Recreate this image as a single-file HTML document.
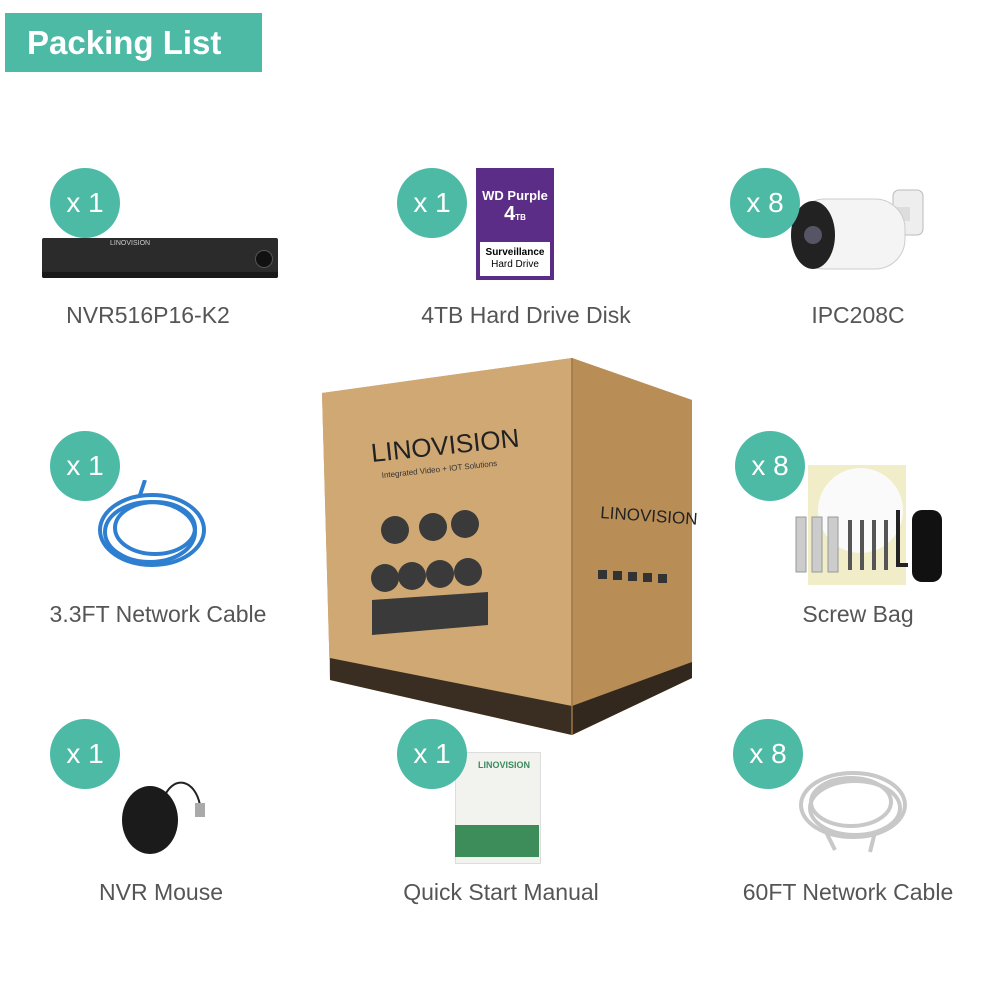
<!DOCTYPE html>
<html><head><meta charset="utf-8"><style>
body{margin:0;width:1000px;height:1000px;background:#fff;position:relative;overflow:hidden;font-family:"Liberation Sans",sans-serif}
.hdr{position:absolute;left:5px;top:13px;width:257px;height:59px;background:#4dbaa5;color:#fff;font-weight:bold;font-size:33px;line-height:59px;text-indent:22px}
.c{position:absolute;width:70px;height:70px;border-radius:50%;background:#4dbaa5;color:#fff;font-size:28px;text-align:center;line-height:70px;z-index:2}
.l{position:absolute;color:#555;font-size:23px;width:300px;text-align:center}
.a{position:absolute}
</style></head><body>
<div class="hdr">Packing List</div>

<div class="c" style="left:50px;top:168px">x 1</div>
<div class="c" style="left:397px;top:168px">x 1</div>
<div class="c" style="left:730px;top:168px">x 8</div>
<div class="c" style="left:50px;top:431px">x 1</div>
<div class="c" style="left:735px;top:431px">x 8</div>
<div class="c" style="left:50px;top:719px">x 1</div>
<div class="c" style="left:397px;top:719px">x 1</div>
<div class="c" style="left:733px;top:719px">x 8</div>

<div class="l" style="left:-2px;top:302px">NVR516P16-K2</div>
<div class="l" style="left:376px;top:302px">4TB Hard Drive Disk</div>
<div class="l" style="left:708px;top:302px">IPC208C</div>
<div class="l" style="left:8px;top:601px">3.3FT Network Cable</div>
<div class="l" style="left:708px;top:601px">Screw Bag</div>
<div class="l" style="left:11px;top:879px">NVR Mouse</div>
<div class="l" style="left:351px;top:879px">Quick Start Manual</div>
<div class="l" style="left:698px;top:879px">60FT Network Cable</div>

<!-- NVR -->
<div class="a" style="left:42px;top:238px;width:236px;height:40px;background:#2b2b2b;border-radius:2px;box-shadow:inset 0 -6px 0 #1a1a1a"></div>
<div class="a" style="left:110px;top:240px;color:#ccc;font-size:7px">LINOVISION</div>
<div class="a" style="left:255px;top:250px;width:16px;height:16px;border-radius:50%;background:#111;border:1px solid #555"></div>

<!-- HDD -->
<div class="a" style="left:476px;top:168px;width:78px;height:112px;background:#5b2d86"></div>
<div class="a" style="left:478px;top:188px;width:74px;color:#fff;font-size:13px;text-align:center;font-weight:bold">WD Purple<br><span style="font-size:20px">4</span><span style="font-size:8px">TB</span></div>
<div class="a" style="left:480px;top:242px;width:70px;height:34px;background:#fff;font-size:10px;text-align:center;line-height:12px;padding-top:5px;box-sizing:border-box"><b>Surveillance</b><br>Hard Drive</div>

<!-- camera -->
<svg class="a" style="left:785px;top:185px" width="160" height="100">
<rect x="108" y="5" width="30" height="45" rx="6" fill="#eee" stroke="#bbb"/>
<rect x="95" y="22" width="30" height="14" fill="#ddd"/>
<rect x="10" y="14" width="110" height="70" rx="30" fill="#f4f4f4" stroke="#ccc"/>
<ellipse cx="28" cy="50" rx="22" ry="34" fill="#222"/>
<circle cx="28" cy="50" r="9" fill="#556"/>
</svg>

<!-- blue cable -->
<svg class="a" style="left:90px;top:480px" width="130" height="95">
<g fill="none" stroke="#2f7fd0" stroke-width="4">
<ellipse cx="62" cy="50" rx="52" ry="35"/><ellipse cx="60" cy="52" rx="45" ry="30"/><ellipse cx="65" cy="48" rx="40" ry="26"/>
<path d="M50 15 L55 0"/></g></svg>

<!-- screw bag -->
<div class="a" style="left:808px;top:465px;width:98px;height:120px;background:#f0edc8"></div>
<div class="a" style="left:818px;top:468px;width:85px;height:85px;border-radius:50%;background:#fafafa"></div>
<svg class="a" style="left:790px;top:505px" width="160" height="80">
<g fill="#ccc" stroke="#999"><rect x="6" y="12" width="10" height="55"/><rect x="22" y="12" width="10" height="55"/><rect x="38" y="12" width="10" height="55"/></g>
<g stroke="#555" stroke-width="4"><line x1="60" y1="15" x2="60" y2="65"/><line x1="72" y1="15" x2="72" y2="65"/><line x1="84" y1="15" x2="84" y2="65"/><line x1="96" y1="15" x2="96" y2="65"/></g>
<path d="M108 5 L108 60 L118 60" stroke="#222" stroke-width="4" fill="none"/>
<rect x="122" y="5" width="30" height="72" rx="10" fill="#111"/>
</svg>

<!-- mouse -->
<svg class="a" style="left:115px;top:765px" width="95" height="95">
<path d="M50 30 C60 10 80 15 85 40" stroke="#222" fill="none" stroke-width="2"/>
<rect x="80" y="38" width="10" height="14" fill="#aaa"/>
<ellipse cx="35" cy="55" rx="28" ry="34" fill="#1b1b1b"/>
</svg>

<!-- manual -->
<div class="a" style="left:455px;top:752px;width:84px;height:110px;background:#f2f2ee;border:1px solid #ddd"></div>
<div class="a" style="left:478px;top:760px;color:#3a8b5f;font-size:9px;font-weight:bold">LINOVISION</div>
<div class="a" style="left:455px;top:825px;width:84px;height:32px;background:#3c8d59"></div>

<!-- grey cable -->
<svg class="a" style="left:795px;top:760px" width="120" height="100">
<g fill="none" stroke="#c8c8c8" stroke-width="4">
<ellipse cx="58" cy="45" rx="52" ry="32"/><ellipse cx="60" cy="48" rx="45" ry="27"/><ellipse cx="56" cy="42" rx="40" ry="24"/>
<path d="M30 70 L40 90 M80 72 L75 92"/></g></svg>

<!-- box -->
<svg class="a" style="left:0;top:0" width="1000" height="1000">
<polygon points="322,393 572,358 692,400 692,678 572,735 330,680" fill="#c9a06a"/>
<polygon points="572,358 692,400 692,678 572,735" fill="#b88d56"/>
<polygon points="322,393 572,358 572,735 330,680" fill="#cfa874"/>
<polygon points="330,658 572,706 572,735 330,680" fill="#3a2e22"/>
<polygon points="572,706 692,662 692,678 572,735" fill="#32281d"/>
<line x1="572" y1="358" x2="572" y2="735" stroke="#9c7646" stroke-width="1.5"/>
<text x="372" y="462" font-family="Liberation Sans" font-size="26" fill="#222" transform="rotate(-6 372 462)">LINOVISION</text>
<text x="382" y="478" font-family="Liberation Sans" font-size="8" fill="#333" transform="rotate(-6 382 478)">Integrated Video + IOT Solutions</text>
<text x="600" y="518" font-family="Liberation Sans" font-size="17" fill="#222" transform="rotate(4 600 518)">LINOVISION</text>
<g fill="#333"><rect x="598" y="570" width="9" height="9"/><rect x="613" y="571" width="9" height="9"/><rect x="628" y="572" width="9" height="9"/><rect x="643" y="573" width="9" height="9"/><rect x="658" y="574" width="9" height="9"/></g>
<g fill="#3a3a3a">
<circle cx="395" cy="530" r="14"/><circle cx="433" cy="527" r="14"/><circle cx="465" cy="524" r="14"/>
<circle cx="385" cy="578" r="14"/><circle cx="412" cy="576" r="14"/><circle cx="440" cy="574" r="14"/><circle cx="468" cy="572" r="14"/>
<polygon points="372,600 488,592 488,625 372,635"/>
</g>
</svg>
</body></html>
